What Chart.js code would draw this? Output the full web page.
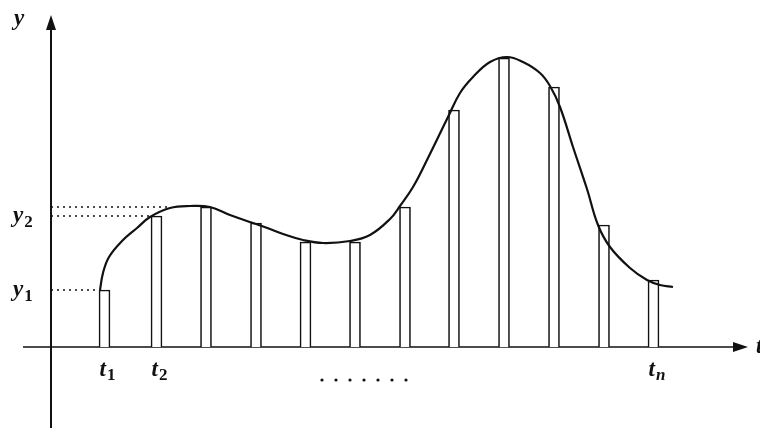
<!DOCTYPE html>
<html>
<head>
<meta charset="utf-8">
<script src="https://cdn.jsdelivr.net/npm/chart.js@4/dist/chart.umd.min.js"></script>
<style>
  html, body { margin: 0; padding: 0; background: #fff; }
</style>
</head>
<body>
<canvas id="chart" width="760" height="428"></canvas>
<script>
// sample instants t_i and the sampled values (the narrow bars)
const sampleT = [1.07, 2.11, 3.10, 4.10, 5.09, 6.08, 7.08, 8.06, 9.06, 10.06, 11.06, 12.05]
const sampleY = [0.57, 1.31, 1.40, 1.24, 1.05, 1.05, 1.40, 2.37, 2.89, 2.60, 1.22, 0.67]

// the continuous signal
const curveT = [0.98, 1.04, 1.16, 1.42, 1.72, 1.98, 2.38, 2.78, 3.18, 3.58, 4.04, 4.38, 4.64, 5.04, 5.44,
  5.98, 6.38, 6.78, 6.98, 7.24, 7.52, 7.94, 8.18, 8.44, 8.78, 9.12, 9.44, 9.78, 9.98, 10.18, 10.44,
  10.72, 10.94, 11.18, 11.58, 11.92, 12.18, 12.44]
const curveY = [0.57, 0.74, 0.90, 1.06, 1.19, 1.30, 1.39, 1.41, 1.40, 1.32, 1.24, 1.18, 1.13, 1.07, 1.04,
  1.06, 1.12, 1.28, 1.41, 1.60, 1.87, 2.30, 2.54, 2.70, 2.85, 2.90, 2.85, 2.74, 2.61, 2.40, 2.00,
  1.58, 1.22, 1.00, 0.79, 0.67, 0.62, 0.60]

// dotted guides from the y axis
const guideY = [0.57, 1.31, 1.40]
const guideEnd = [0.96, 2.00, 2.38]

// axis labels
const tLabelAt = [sampleT[0], sampleT[1], sampleT[11]]
const tLabelSub = ['1', '2', 'n']
const yLabelAt = [0.57, 1.31]
const yLabelSub = ['1', '2']

const xAxisRange = [-0.56, 13.94]
const yAxisRange = [-0.81, 3.32]

const INK = '#111'
const LETTER = 'italic bold 23px "Liberation Serif"'
const SUB = 'bold 17px "Liberation Serif"'
const SUB_IT = 'italic bold 17px "Liberation Serif"'

const guideSets = guideY.map((v, i) => ({
  type: 'line',
  data: [{ x: 0, y: v }, { x: guideEnd[i], y: v }],
  borderColor: INK,
  borderWidth: 1.6,
  borderDash: [2, 4],
  pointRadius: 0,
  order: 3
}))

const axesPlugin = {
  id: 'axes',
  beforeDatasetsDraw (chart) {
    const { ctx, scales: { x, y } } = chart
    const x0 = x.getPixelForValue(0)
    const y0 = y.getPixelForValue(0)
    const xEnd = x.getPixelForValue(xAxisRange[1])
    const yEnd = y.getPixelForValue(yAxisRange[1])
    ctx.save()
    ctx.strokeStyle = INK
    ctx.fillStyle = INK
    ctx.lineWidth = 1.6
    ctx.beginPath()
    ctx.moveTo(x.getPixelForValue(xAxisRange[0]), y0)
    ctx.lineTo(xEnd - 8, y0)
    ctx.stroke()
    ctx.lineWidth = 2
    ctx.beginPath()
    ctx.moveTo(x0, y.getPixelForValue(yAxisRange[0]))
    ctx.lineTo(x0, yEnd + 8)
    ctx.stroke()
    // arrow heads
    ctx.beginPath()
    ctx.moveTo(xEnd, y0)
    ctx.lineTo(xEnd - 15, y0 - 5)
    ctx.lineTo(xEnd - 15, y0 + 5)
    ctx.closePath()
    ctx.fill()
    ctx.beginPath()
    ctx.moveTo(x0, yEnd)
    ctx.lineTo(x0 - 5, yEnd + 15)
    ctx.lineTo(x0 + 5, yEnd + 15)
    ctx.closePath()
    ctx.fill()
    ctx.restore()
  },
  afterDraw (chart) {
    const { ctx, scales: { x, y } } = chart
    const x0 = x.getPixelForValue(0)
    const y0 = y.getPixelForValue(0)
    ctx.save()
    ctx.fillStyle = INK
    ctx.textBaseline = 'alphabetic'
    ctx.textAlign = 'left'
    // y axis name
    ctx.font = LETTER
    ctx.fillText('y', x0 - 37, y.getPixelForValue(yAxisRange[1]) + 10)
    // y_1, y_2
    yLabelAt.forEach((v, i) => {
      const py = y.getPixelForValue(v) + 6
      ctx.font = LETTER
      ctx.fillText('y', x0 - 38, py)
      const w = ctx.measureText('y').width
      ctx.font = SUB
      ctx.fillText(yLabelSub[i], x0 - 38 + w + 1, py + 5)
    })
    // t_1, t_2, t_n
    tLabelAt.forEach((v, i) => {
      const px = x.getPixelForValue(v) - 5
      ctx.font = LETTER
      ctx.fillText('t', px, y0 + 29)
      const w = ctx.measureText('t').width
      ctx.font = tLabelSub[i] === 'n' ? SUB_IT : SUB
      ctx.fillText(tLabelSub[i], px + w + 1, y0 + 33)
    })
    // ellipsis between t_2 and t_n
    for (let k = 0; k < 7; k++) {
      ctx.beginPath()
      ctx.arc(x.getPixelForValue(5.42 + k * 0.28), y0 + 33, 1.6, 0, Math.PI * 2)
      ctx.fill()
    }
    // cut-off axis name at the right edge
    ctx.font = LETTER
    ctx.fillText('t', x.getPixelForValue(xAxisRange[1]) + 8, y0 + 6)
    ctx.restore()
  }
}

new Chart(document.getElementById('chart'), {
  data: {
    datasets: [
      {
        type: 'bar',
        data: sampleT.map((t, i) => ({ x: t, y: sampleY[i] })),
        backgroundColor: '#fff',
        borderColor: INK,
        borderWidth: 1.6,
        barThickness: 11,
        order: 2
      },
      {
        type: 'line',
        data: curveT.map((t, i) => ({ x: t, y: curveY[i] })),
        borderColor: INK,
        borderWidth: 2.2,
        pointRadius: 0,
        tension: 0.4,
        order: 1
      },
      ...guideSets
    ]
  },
  options: {
    responsive: false,
    animation: false,
    layout: { padding: 0 },
    plugins: { legend: { display: false }, tooltip: { enabled: false } },
    scales: {
      x: { type: 'linear', min: -1.02, max: 14.18, offset: false, display: false },
      y: { type: 'linear', min: -0.81, max: 3.47, display: false }
    }
  },
  plugins: [axesPlugin]
})
</script>
</body>
</html>
